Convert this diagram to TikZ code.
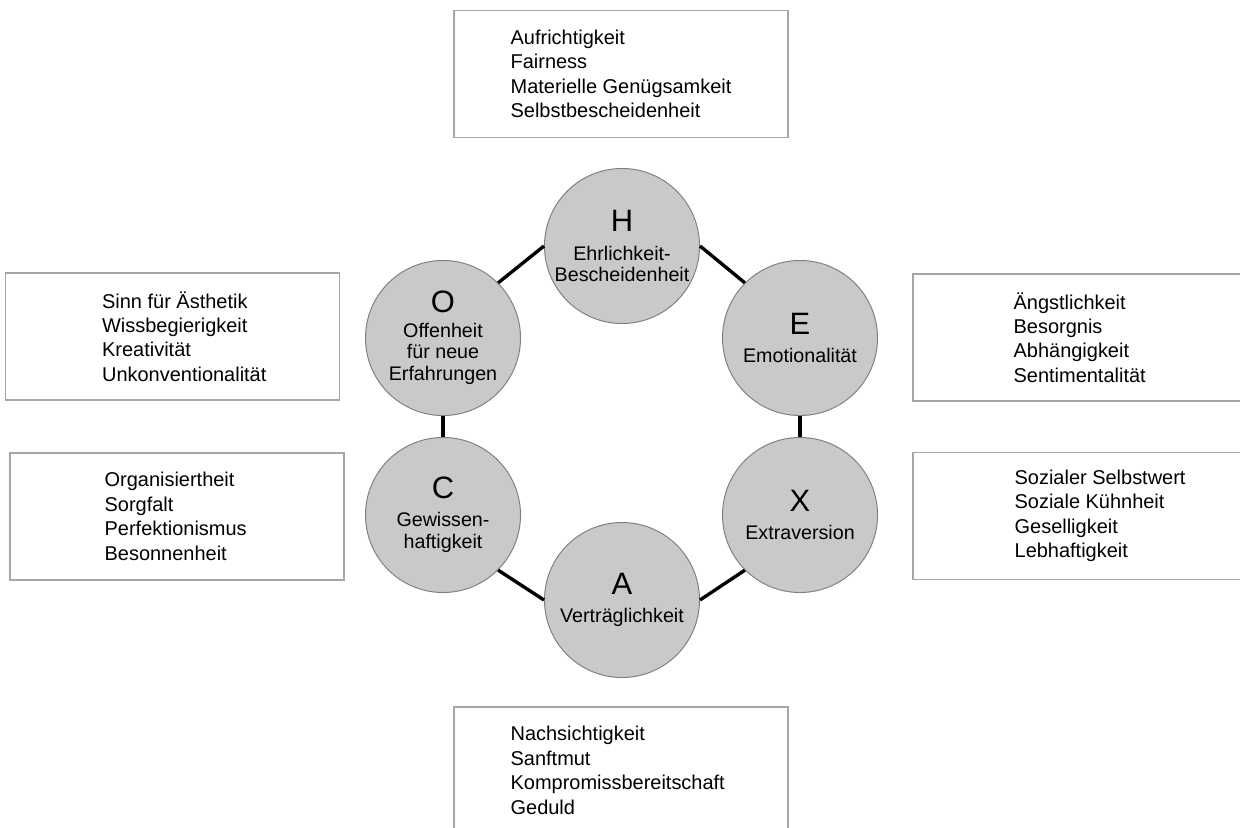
\documentclass[tikz,border=0pt]{standalone}
\usepackage{fontspec}
\setmainfont{Liberation Sans}
\usetikzlibrary{positioning}

\newcommand{\dimletter}[1]{{\fontsize{22}{22}\selectfont #1}}

\begin{document}
\begin{tikzpicture}[
    x=0.025cm, y=-0.025cm,
    font=\fontsize{14}{15.4}\selectfont,
    factor/.style={
        circle, draw=black!50, fill=black!21,
        line width=0.7pt, inner sep=0pt,
        minimum size=3.875cm, align=center
    },
    facetbox/.style={
        draw=black!35, line width=0.9pt,
        minimum width=8.35cm, minimum height=3.175cm
    },
    facets/.style={
        align=left, inner sep=0pt,
        font=\fontsize{14.2}{17.4}\selectfont
    },
    link/.style={line width=2.4pt}
]
\useasboundingbox (0,0) rectangle (1240,827);

% ===== HEXACO FACTORS =====
\node[factor] (H) at (622,246) {\dimletter{H}\\[5pt]Ehrlichkeit-\\Bescheidenheit};
\node[factor] (E) at (800,338) {\dimletter{E}\\[4.5pt]Emotionalität};
\node[factor] (X) at (800,515) {\dimletter{X}\\[4.5pt]Extraversion};
\node[factor] (A) at (622,600) {\dimletter{A}\\[4.5pt]Verträglichkeit};
\node[factor] (C) at (443,515) {\dimletter{C}\\[4.5pt]Gewissen-\\haftigkeit};
\node[factor] (O) at (443,338) {\dimletter{O}\\[2pt]Offenheit\\für neue\\Erfahrungen};

% ===== RING =====
\draw[link] (H.east) -- (E.north west);
\draw[link] (E.south) -- (X.north);
\draw[link] (X.south west) -- (A.east);
\draw[link] (A.west) -- (C.south east);
\draw[link] (C.north) -- (O.south);
\draw[link] (O.north east) -- (H.west);

% ===== FACET BOXES =====
\node[facetbox] (hbox) at (621,74) {};
\node[facets, right=1.425cm of hbox.west] (hlist)
{Aufrichtigkeit\\Fairness\\Materielle Genügsamkeit\\Selbstbescheidenheit};

\node[facetbox] (ebox) at (1080,337.5) {};
\node[facets, right=2.525cm of ebox.west] (elist)
{Ängstlichkeit\\Besorgnis\\Abhängigkeit\\Sentimentalität};

\node[facetbox] (xbox) at (1080,516) {};
\node[facets, right=2.55cm of xbox.west] (xlist)
{Sozialer Selbstwert\\Soziale Kühnheit\\Geselligkeit\\Lebhaftigkeit};

\node[facetbox] (abox) at (621,770.5) {};
\node[facets, right=1.425cm of abox.west] (alist)
{Nachsichtigkeit\\Sanftmut\\Kompromissbereitschaft\\Geduld};

\node[facetbox] (cbox) at (177,516.5) {};
\node[facets, right=2.375cm of cbox.west] (clist)
{Organisiertheit\\Sorgfalt\\Perfektionismus\\Besonnenheit};

\node[facetbox] (obox) at (172.5,336.5) {};
\node[facets, right=2.425cm of obox.west] (olist)
{Sinn für Ästhetik\\Wissbegierigkeit\\Kreativität\\Unkonventionalität};

\end{tikzpicture}
\end{document}
